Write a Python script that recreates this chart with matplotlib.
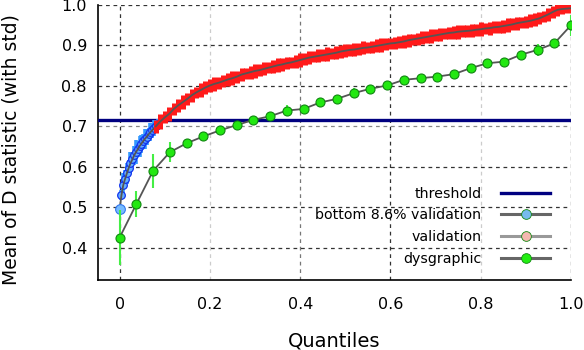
import matplotlib
matplotlib.use("Agg")
import matplotlib.pyplot as plt
from matplotlib.lines import Line2D

# ---- data ----
dys_q = [0/27, 1/27, 2/27, 3/27, 4/27, 5/27, 6/27, 7/27, 8/27, 9/27, 10/27, 11/27, 12/27, 13/27,
         14/27, 15/27, 16/27, 17/27, 18/27, 19/27, 20/27, 21/27, 22/27, 23/27, 24/27, 25/27, 26/27, 27/27]
dys_mean = [0.425, 0.508, 0.590, 0.636, 0.658, 0.675, 0.690, 0.703, 0.716, 0.725, 0.739, 0.743, 0.759, 0.768,
            0.782, 0.793, 0.801, 0.815, 0.819, 0.823, 0.829, 0.844, 0.856, 0.860, 0.877, 0.889, 0.905, 0.950]
dys_std = [0.068, 0.032, 0.042, 0.025, 0.010, 0.008, 0.008, 0.008, 0.010, 0.008, 0.014, 0.008, 0.010, 0.008,
           0.012, 0.008, 0.008, 0.010, 0.008, 0.008, 0.008, 0.010, 0.008, 0.008, 0.010, 0.014, 0.010, 0.026]

bot_q = [0.000, 0.004, 0.008, 0.012, 0.016, 0.020, 0.024, 0.028, 0.032, 0.036, 0.040,
         0.044, 0.048, 0.052, 0.056, 0.060, 0.064, 0.068, 0.072, 0.076, 0.080, 0.084]
bot_mean = [0.495, 0.530, 0.555, 0.570, 0.584, 0.597, 0.609, 0.618, 0.628, 0.636, 0.643,
            0.651, 0.657, 0.663, 0.669, 0.674, 0.680, 0.685, 0.690, 0.695, 0.700, 0.705]
bot_std = [0.004, 0.012, 0.030, 0.022, 0.026, 0.020, 0.028, 0.018, 0.024, 0.030, 0.020,
           0.026, 0.022, 0.018, 0.024, 0.020, 0.016, 0.022, 0.018, 0.020, 0.016, 0.014]

val_q = [0.08, 0.09, 0.10, 0.11, 0.12, 0.13, 0.14, 0.15, 0.16, 0.17, 0.18, 0.19, 0.20, 0.21, 0.22, 0.23,
         0.24, 0.25, 0.26, 0.27, 0.28, 0.29, 0.30, 0.31, 0.32, 0.33, 0.34, 0.35, 0.36, 0.37, 0.38, 0.39,
         0.40, 0.41, 0.42, 0.43, 0.44, 0.45, 0.46, 0.47, 0.48, 0.49, 0.50, 0.51, 0.52, 0.53, 0.54, 0.55,
         0.56, 0.57, 0.58, 0.59, 0.60, 0.61, 0.62, 0.63, 0.64, 0.65, 0.66, 0.67, 0.68, 0.69, 0.70, 0.71,
         0.72, 0.73, 0.74, 0.75, 0.76, 0.77, 0.78, 0.79, 0.80, 0.81, 0.82, 0.83, 0.84, 0.85, 0.86, 0.87,
         0.88, 0.89, 0.90, 0.91, 0.92, 0.93, 0.94, 0.95, 0.96, 0.97, 0.98, 0.99, 1.00]
val_mean = [0.700, 0.712, 0.722, 0.731, 0.743, 0.752, 0.760, 0.768, 0.777, 0.784, 0.790, 0.796, 0.801, 0.805,
            0.808, 0.812, 0.816, 0.819, 0.823, 0.828, 0.831, 0.834, 0.837, 0.839, 0.842, 0.845, 0.848, 0.851,
            0.853, 0.856, 0.858, 0.861, 0.864, 0.867, 0.870, 0.872, 0.874, 0.876, 0.878, 0.880, 0.882, 0.885,
            0.887, 0.889, 0.890, 0.892, 0.894, 0.895, 0.897, 0.899, 0.901, 0.903, 0.905, 0.906, 0.908, 0.910,
            0.913, 0.915, 0.917, 0.919, 0.921, 0.923, 0.925, 0.927, 0.929, 0.931, 0.932, 0.934, 0.935, 0.936,
            0.937, 0.939, 0.940, 0.942, 0.943, 0.945, 0.946, 0.948, 0.950, 0.952, 0.955, 0.957, 0.959, 0.961,
            0.964, 0.967, 0.972, 0.977, 0.983, 0.988, 0.990, 0.991, 0.992]
val_std = [0.016, 0.018, 0.015, 0.017, 0.014, 0.016, 0.018, 0.015, 0.016, 0.014, 0.017, 0.015, 0.016, 0.018,
           0.015, 0.014, 0.016, 0.017, 0.015, 0.016, 0.014, 0.016, 0.017, 0.015, 0.016, 0.014, 0.015, 0.017,
           0.016, 0.015, 0.014, 0.016, 0.017, 0.015, 0.016, 0.014, 0.016, 0.015, 0.017, 0.014, 0.016, 0.015,
           0.016, 0.014, 0.017, 0.015, 0.016, 0.014, 0.015, 0.016, 0.017, 0.015, 0.014, 0.016, 0.015, 0.017,
           0.016, 0.014, 0.015, 0.016, 0.014, 0.017, 0.015, 0.016, 0.014, 0.015, 0.016, 0.017, 0.015, 0.014,
           0.016, 0.015, 0.017, 0.014, 0.016, 0.015, 0.014, 0.016, 0.017, 0.015, 0.016, 0.014, 0.015, 0.016,
           0.017, 0.015, 0.014, 0.016, 0.015, 0.014, 0.013, 0.012, 0.012]

threshold = 0.715

x_ticks = [0, 0.2, 0.4, 0.6, 0.8, 1.0]
x_tick_labels = ["0", "0.2", "0.4", "0.6", "0.8", "1.0"]
y_ticks = [0.4, 0.5, 0.6, 0.7, 0.8, 0.9, 1.0]
y_tick_labels = ["0.4", "0.5", "0.6", "0.7", "0.8", "0.9", "1.0"]

# ---- figure ----
fig = plt.figure(figsize=(5.84, 3.5), dpi=100)
ax = fig.add_axes([98/584, 1 - 280/350, (571 - 98)/584, (280 - 5)/350])

ax.set_xlim(-0.048, 1.0)
ax.set_ylim(0.32, 1.0)

# threshold
ax.axhline(threshold, color="#000080", lw=2.4, zorder=3)

# bottom 8.6% validation (blue)
ax.errorbar(bot_q, bot_mean, yerr=bot_std, fmt="none", ecolor="#3399ff", elinewidth=2.6, zorder=4)
ax.plot(bot_q, bot_mean, ls="none", marker="o", ms=5.5, mfc="#66b0ff", mec="#1133ee", mew=0.9, zorder=5)
ax.plot(bot_q, bot_mean, color="#555555", lw=1.3, zorder=6)
ax.plot(bot_q[0], bot_mean[0], ls="none", marker="o", ms=7, mfc="#77bbff", mec="#3377ee", mew=0.8, zorder=6)

# validation (red)
ax.errorbar(val_q, val_mean, yerr=val_std, fmt="none", ecolor="#ff1a1a", elinewidth=3.6, zorder=7)
ax.plot(val_q, val_mean, color="#555555", lw=1.3, zorder=8)

# dysgraphic (green)
ax.errorbar(dys_q, dys_mean, yerr=dys_std, fmt="none", ecolor="#44ee44", elinewidth=1.5, zorder=9)
ax.plot(dys_q, dys_mean, color="#555555", lw=1.3, zorder=10)
ax.plot(dys_q, dys_mean, ls="none", marker="o", ms=6.5, mfc="#22e811", mec="#118811", mew=0.8, zorder=11)

# axes styling
ax.set_xticks(x_ticks)
ax.set_xticklabels(x_tick_labels)
ax.set_yticks(y_ticks)
ax.set_yticklabels(y_tick_labels)
ax.tick_params(length=0, labelsize=11.5, pad=8)
ax.tick_params(axis="x", pad=12)
for s in ["top", "right"]:
    ax.spines[s].set_visible(False)
for s in ["left", "bottom"]:
    ax.spines[s].set_linewidth(1.2)
ax.grid(True, ls=(0, (3, 3)), lw=0.9, color="#333333", zorder=1)
xg = ax.xaxis.get_gridlines()
for i, c in enumerate(["#333333", "#cccccc", "#777777", "#333333", "#cccccc", "#333333"]):
    xg[i].set_color(c)
yg = ax.yaxis.get_gridlines()
yg[3].set_color("#888888")

ax.set_xlabel("Quantiles", fontsize=14, labelpad=14)
ax.set_ylabel("Mean of D statistic (with std)", fontsize=13.5)
ax.yaxis.set_label_coords((21 - 98) / 473, (280 - 150) / 275)

handles = [
    Line2D([], [], color="#000080", lw=2.4),
    Line2D([], [], color="#666666", lw=2.2, marker="o", ms=7, mfc="#77bbee", mec="#118811", mew=0.6),
    Line2D([], [], color="#999999", lw=2.2, marker="o", ms=7, mfc="#f4b8b0", mec="#118811", mew=0.6),
    Line2D([], [], color="#666666", lw=2.2, marker="o", ms=7, mfc="#22ee11", mec="#118811", mew=0.6),
]
labels = ["threshold", "bottom 8.6% validation", "validation", "dysgraphic"]
ax.legend(handles, labels, loc="lower right", markerfirst=False, frameon=False,
          fontsize=10.2, handlelength=3.45, labelspacing=0.55, handletextpad=1.4,
          borderpad=0.4, bbox_to_anchor=(0.983, 0.005))

fig.savefig("out.png", dpi=100)
